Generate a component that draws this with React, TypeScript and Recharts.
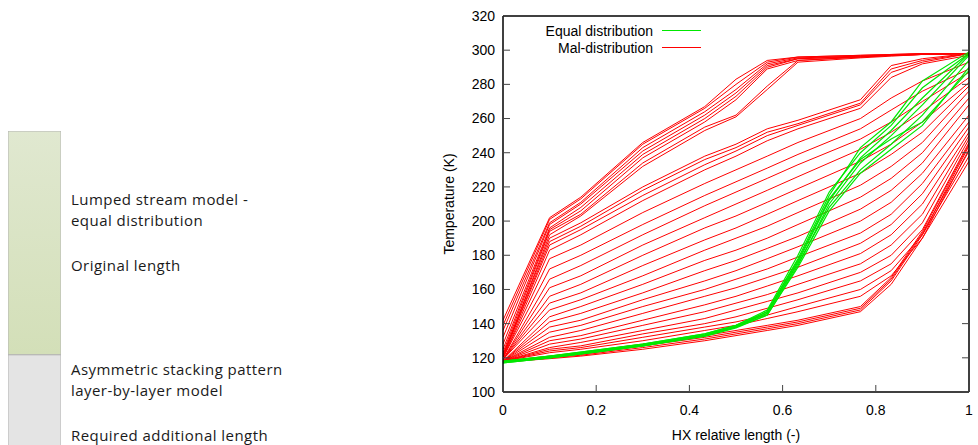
import { LineChart, Line, XAxis, YAxis, Legend, Label, BarChart, Bar } from 'recharts';

// sample positions along the HX (relative length)
const malX = [0, 0.1, 0.167, 0.3, 0.433, 0.5, 0.567, 0.633, 0.767, 0.833, 0.9, 1];
const equalX = [0, 0.1, 0.3, 0.433, 0.5, 0.567, 0.633, 0.7, 0.767, 0.833, 0.9, 1];

// mal-distribution temperature profiles (K)
const upperBundle = [
  [142, 202, 214, 246, 267, 283, 294, 296, 297, 297.5, 298, 298],
  [139, 201, 213, 245, 266, 280, 293, 296, 297, 297.5, 298, 298],
  [136, 199, 211, 243, 264, 277, 292, 295.5, 296.5, 297, 298, 298],
  [132, 198, 210, 241, 262, 275, 291, 295, 296.5, 297, 297.5, 298],
  [128, 196, 208, 239, 260, 273, 290, 295, 296, 297, 297.5, 298],
  [125, 195, 206, 237, 258, 271, 289, 294, 296, 297, 297.5, 298],
  [123, 194, 204, 234, 255, 262, 279, 294, 296, 297, 297.5, 298],
  [121, 192, 203, 232, 253, 261, 277, 293, 295.5, 296.5, 297.5, 298],
];

const fanLines = [
  [122, 190, 199, 220, 238, 245, 254, 259, 271, 291, 295, 298],
  [121, 188, 197, 218, 236, 243, 252, 257, 269, 289, 294, 298],
  [121, 186, 195, 215, 233, 241, 250, 256, 268, 287, 293, 298],
  [120, 183, 192, 212, 230, 238, 247, 254, 266, 284, 292, 297],
  [120, 178, 186, 205, 222, 230, 238, 246, 260, 272, 282, 293],
  [120, 172, 180, 198, 215, 223, 231, 239, 254, 265, 276, 289],
  [119, 166, 174, 192, 209, 217, 225, 233, 248, 258, 270, 287],
  [119, 161, 168, 186, 202, 210, 218, 226, 242, 252, 264, 284],
  [119, 156, 163, 180, 196, 203, 211, 219, 235, 245, 258, 281],
  [119, 152, 158, 174, 189, 196, 204, 212, 228, 239, 252, 279],
  [119, 148, 154, 168, 183, 190, 197, 205, 221, 232, 246, 276],
  [118, 144, 150, 163, 177, 183, 190, 198, 214, 225, 240, 272],
  [118, 141, 146, 158, 171, 177, 184, 191, 207, 218, 234, 268],
  [118, 138, 142, 154, 165, 171, 178, 185, 200, 211, 228, 262],
  [118, 135, 139, 150, 160, 166, 172, 179, 193, 204, 222, 258],
  [118, 132, 136, 146, 156, 161, 167, 173, 187, 198, 216, 255],
  [118, 130, 133, 142, 151, 156, 162, 168, 181, 192, 210, 252],
  [118, 128, 131, 139, 147, 152, 157, 163, 175, 186, 204, 250],
  [118, 126, 129, 136, 143, 148, 153, 158, 170, 180, 199, 248],
  [118, 125, 127, 134, 140, 144, 149, 154, 165, 175, 195, 246],
  [118, 124, 126, 132, 138, 141, 145, 150, 160, 171, 192, 244],
  [118, 123, 125, 130, 136, 139, 143, 147, 156, 168, 190, 242],
];

const lowerBundle = [
  [118, 121, 123, 128, 133, 136, 139, 142, 150, 167, 194, 245],
  [118, 120.5, 122, 127, 132, 135, 138, 141, 149, 166, 193, 241],
  [118, 120, 121.5, 126, 131, 134, 137, 140, 148, 165, 192, 238],
  [117.5, 119.5, 121, 125, 130, 133, 136, 139, 147, 163, 190, 235],
];

// equal distribution profiles (K)
const equalProfiles = [
  [118, 121, 128, 134, 139, 147, 178, 215, 243, 258, 282, 299],
  [118, 121, 128, 134, 139, 148, 180, 217, 240, 256, 278, 298],
  [118, 120.5, 127.5, 133.5, 138.5, 146, 176, 212, 237, 253, 272, 298],
  [117.5, 120.5, 127.5, 133, 138, 145, 174, 210, 234, 250, 268, 297],
  [117.5, 120, 127, 133, 138, 146, 175, 208, 230, 245, 262, 294],
  [117, 120, 127, 132.5, 137.5, 145, 173, 206, 228, 242, 256, 290],
  [117, 120, 127, 133, 138, 147, 177, 213, 236, 248, 258, 288],
];

const xTicks = [0, 0.2, 0.4, 0.6, 0.8, 1];
const yTicks = [100, 120, 140, 160, 180, 200, 220, 240, 260, 280, 300, 320];
const legendNames = ['Equal distribution', 'Mal-distribution'];

// left diagram: original vs required additional length
const lengthBar = [{ name: 'HX', additional: 0.52, original: 1 }];

const RED = '#ff0000';
const GREEN = '#00e800';
const FONT = '"Liberation Sans", Arial, sans-serif';
const TICK = '#444';

const toPoints = (xs: number[], ts: number[]) => xs.map((x, i) => ({ x, t: ts[i] }));
const malProfiles = [...upperBundle, ...fanLines, ...lowerBundle];

// gnuplot style ticks: marks point into the plot
const BottomTick = ({ x, y, payload }: any) => (
  <g>
    <line x1={x} x2={x} y1={y - 13} y2={y - 20} stroke={TICK} />
    <text x={x} y={y} dy="0.71em" textAnchor="middle" fontSize={14} fontFamily={FONT} fill="#000">{payload.value}</text>
  </g>
);
const LeftTick = ({ x, y, payload }: any) => (
  <g>
    <line x1={x + 8} x2={x + 15} y1={y} y2={y} stroke={TICK} />
    <text x={x} y={y} dy="0.35em" textAnchor="end" fontSize={14} fontFamily={FONT} fill="#000">{payload.value}</text>
  </g>
);
const TopTick = ({ x, y }: any) => <line x1={x} x2={x} y1={y} y2={y + 7} stroke={TICK} />;
const RightTick = ({ x, y }: any) => <line x1={x - 7} x2={x} y1={y} y2={y} stroke={TICK} />;

const LegendBox = () => (
  <div style={{ fontFamily: FONT, fontSize: 14, color: '#000' }}>
    {legendNames.map((name, i) => (
      <div key={name} style={{ display: 'flex', alignItems: 'center', height: 17 }}>
        <span style={{ width: 120, textAlign: 'right', whiteSpace: 'nowrap' }}>{name}</span>
        <svg width={48} height={17} style={{ display: 'block' }}>
          <line x1={9} x2={48} y1={8.5} y2={8.5} stroke={i === 0 ? GREEN : RED} strokeWidth={1.2} />
        </svg>
      </div>
    ))}
  </div>
);

const sideText = {
  position: 'absolute' as const,
  left: 71,
  fontFamily: '"Open Sans", sans-serif',
  fontSize: 15,
  letterSpacing: 0.45,
  color: '#1a1a1a',
  lineHeight: '21px',
  whiteSpace: 'nowrap' as const,
};

export default function App() {
  const axisLine = { stroke: '#000', strokeWidth: 1.5 };
  return (
    <div style={{ position: 'absolute', left: 0, top: 0, width: 978, height: 445, background: '#fff', overflow: 'hidden' }}>
      <div style={{ position: 'absolute', left: 8, top: 131 }}>
        <BarChart width={53} height={340} data={lengthBar} margin={{ top: 0, right: 0, bottom: 0, left: 0 }} barCategoryGap={0}>
          <defs>
            <linearGradient id="greenFill" x1="0" y1="0" x2="0" y2="1">
              <stop offset="0%" stopColor="#e0e8d0" />
              <stop offset="100%" stopColor="#d3dfb8" />
            </linearGradient>
          </defs>
          <XAxis dataKey="name" hide />
          <YAxis hide domain={[0, 1.52]} />
          <Bar dataKey="additional" stackId="len" fill="#e4e4e4" stroke="#b4b4b4" strokeWidth={1} isAnimationActive={false} />
          <Bar dataKey="original" stackId="len" fill="url(#greenFill)" stroke="#b4b4b4" strokeWidth={1} isAnimationActive={false} />
        </BarChart>
      </div>
      <div style={{ ...sideText, top: 189 }}>Lumped stream model -<br />equal distribution</div>
      <div style={{ ...sideText, top: 255 }}>Original length</div>
      <div style={{ ...sideText, top: 359 }}>Asymmetric stacking pattern<br />layer-by-layer model</div>
      <div style={{ ...sideText, top: 425 }}>Required additional length</div>

      <div style={{ position: 'absolute', left: 420, top: 0 }}>
        <LineChart width={558} height={445} margin={{ top: 15, right: 8, bottom: 0, left: 0 }}>
          <XAxis
            dataKey="x"
            type="number"
            domain={[0, 1]}
            ticks={xTicks}
            height={53}
            tickSize={0}
            tickMargin={13}
            axisLine={axisLine}
            tickLine={false}
            tick={<BottomTick />}
            allowDataOverflow
          >
            <Label
              content={({ viewBox }: any) => (
                <text x={viewBox.x + viewBox.width / 2} y={viewBox.y + 43} textAnchor="middle" dominantBaseline="central" fontSize={14} fontFamily={FONT} fill="#000">
                  HX relative length (-)
                </text>
              )}
            />
          </XAxis>
          <XAxis xAxisId="top" orientation="top" type="number" domain={[0, 1]} ticks={xTicks} height={1} tickSize={0} tickMargin={0} tick={<TopTick />} tickLine={false} axisLine={axisLine} allowDataOverflow />
          <YAxis
            dataKey="t"
            type="number"
            domain={[100, 320]}
            ticks={yTicks}
            width={83}
            tickSize={0}
            tickMargin={8}
            axisLine={axisLine}
            tickLine={false}
            tick={<LeftTick />}
            allowDataOverflow
          >
            <Label
              content={({ viewBox }: any) => {
                const cx = viewBox.x + 29;
                const cy = viewBox.y + viewBox.height / 2;
                return (
                  <text x={cx} y={cy} transform={`rotate(-90, ${cx}, ${cy})`} textAnchor="middle" dominantBaseline="central" fontSize={14} fontFamily={FONT} fill="#000">
                    Temperature (K)
                  </text>
                );
              }}
            />
          </YAxis>
          <YAxis yAxisId="right" orientation="right" type="number" domain={[100, 320]} ticks={yTicks} width={1} tickSize={0} tickMargin={0} tick={<RightTick />} tickLine={false} axisLine={axisLine} allowDataOverflow />
          <Legend layout="vertical" align="center" verticalAlign="middle" content={() => <LegendBox />} wrapperStyle={{ position: 'absolute', left: 113, top: 22, width: 'auto', height: 'auto' }} />
          {malProfiles.map((ts, i) => (
            <Line key={`mal-${i}`} data={toPoints(malX, ts)} dataKey="t" type="linear" stroke={RED} strokeWidth={1} dot={false} activeDot={false} isAnimationActive={false} legendType="none" />
          ))}
          {equalProfiles.map((ts, i) => (
            <Line key={`eq-${i}`} data={toPoints(equalX, ts)} dataKey="t" type="linear" stroke={GREEN} strokeWidth={1.2} dot={false} activeDot={false} isAnimationActive={false} legendType="none" />
          ))}
        </LineChart>
      </div>
    </div>
  );
}
